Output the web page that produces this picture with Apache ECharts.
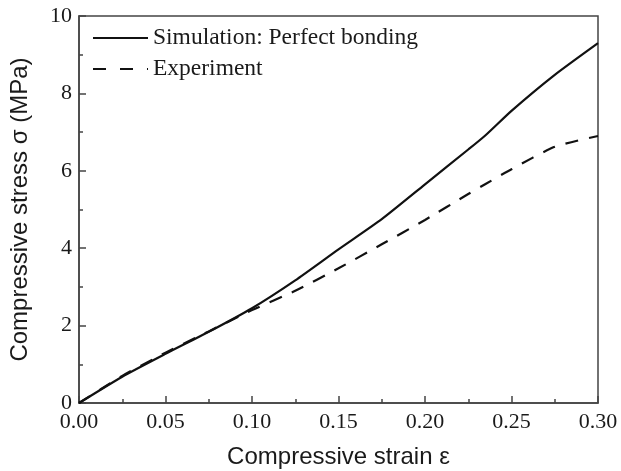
<!DOCTYPE html>
<html>
<head>
<meta charset="utf-8">
<script src="https://cdn.jsdelivr.net/npm/echarts@6/dist/echarts.min.js"></script>
<style>
  html, body { margin: 0; padding: 0; background: #fff; }
  #chart { width: 621px; height: 471px; }
</style>
</head>
<body>
<div id="chart"></div>
<script>
// strain values shared by both curves
var strain = [0, 0.025, 0.05, 0.075, 0.10, 0.125, 0.15, 0.175, 0.20, 0.225, 0.235, 0.25, 0.275, 0.30];
var simStress = [0, 0.68, 1.27, 1.84, 2.45, 3.17, 3.97, 4.75, 5.65, 6.55, 6.92, 7.55, 8.48, 9.30];
var expStress = [0, 0.70, 1.30, 1.85, 2.40, 2.90, 3.48, 4.10, 4.73, 5.40, 5.66, 6.04, 6.62, 6.90];
var seriesNames = ['Simulation: Perfect bonding', 'Experiment'];
var xTicks = [0, 0.05, 0.10, 0.15, 0.20, 0.25, 0.30];
var yTicks = [0, 2, 4, 6, 8, 10];

function pairs(xs, ys) {
	var out = [];
	for (var i = 0; i < xs.length; i++) {
		out.push([xs[i], ys[i]]);
	}
	return out;
}

var chart = echarts.init(document.getElementById('chart'));
var serif = '"Liberation Serif", "Times New Roman", serif';
var sans = '"Liberation Sans", Arial, sans-serif';

var option = {
	animation: false,
	grid: {
		left: 79,
		right: 23,
		top: 16,
		bottom: 68,
		outerBoundsMode: 'none',
		show: true,
		borderColor: '#444',
		borderWidth: 1.5
	},
	legend: {
		orient: 'vertical',
		left: 92,
		top: 26,
		padding: 0,
		itemWidth: 55,
		itemHeight: 20,
		itemGap: 7,
		data: [
			{ name: seriesNames[0] },
			{ name: seriesNames[1], lineStyle: { type: [13, 14] } }
		],
		itemStyle: { opacity: 0 },
		textStyle: { fontFamily: serif, fontSize: 23.5, color: '#1a1a1a' }
	},
	xAxis: {
		type: 'value',
		min: xTicks[0],
		max: xTicks[xTicks.length - 1],
		interval: 0.05,
		name: 'Compressive strain ε',
		nameLocation: 'middle',
		nameGap: 42,
		nameTextStyle: { fontFamily: sans, fontSize: 24, color: '#1a1a1a' },
		axisLine: { lineStyle: { color: '#444', width: 1.5 } },
		axisTick: { inside: true, length: 7, lineStyle: { color: '#444', width: 1.5 } },
		minorTick: { show: true, splitNumber: 2, length: 4, lineStyle: { color: '#444', width: 1.5 } },
		splitLine: { show: false },
		axisLabel: {
			fontFamily: serif, fontSize: 22, color: '#1a1a1a', margin: 8,
			formatter: function (v) { return v.toFixed(2); }
		}
	},
	yAxis: {
		type: 'value',
		min: yTicks[0],
		max: yTicks[yTicks.length - 1],
		interval: 2,
		name: 'Compressive stress σ (MPa)',
		nameLocation: 'middle',
		nameGap: 47,
		nameTextStyle: { fontFamily: sans, fontSize: 24, color: '#1a1a1a' },
		axisLine: { lineStyle: { color: '#444', width: 1.5 } },
		axisTick: { inside: true, length: 7, lineStyle: { color: '#444', width: 1.5 } },
		minorTick: { show: true, splitNumber: 2, length: 4, lineStyle: { color: '#444', width: 1.5 } },
		splitLine: { show: false },
		axisLabel: { fontFamily: serif, fontSize: 22, color: '#1a1a1a', margin: 7 }
	},
	series: [
		{
			name: seriesNames[0],
			type: 'line',
			symbol: 'none',
			smooth: 0.2,
			data: pairs(strain, simStress),
			lineStyle: { color: '#111', width: 2.2, type: 'solid' },
			itemStyle: { color: '#111' }
		},
		{
			name: seriesNames[1],
			type: 'line',
			symbol: 'none',
			smooth: 0.2,
			data: pairs(strain, expStress),
			lineStyle: { color: '#111', width: 2.2, type: [13, 11] },
			itemStyle: { color: '#111' }
		}
	]
};

chart.setOption(option);
</script>
</body>
</html>
